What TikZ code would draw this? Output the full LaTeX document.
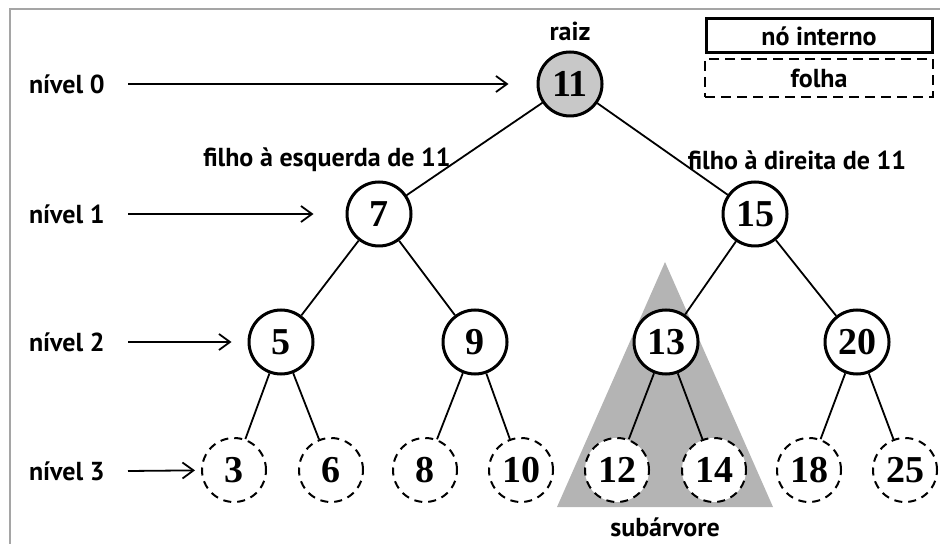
\documentclass[tikz,border=0pt]{standalone}
\usepackage{fontspec}
\setsansfont{PT Sans}
\setmainfont{Liberation Serif}
\usetikzlibrary{positioning,arrows.meta}
\definecolor{framegray}{RGB}{165,165,165}
\definecolor{rootgray}{RGB}{200,200,200}
\definecolor{subgray}{RGB}{180,180,180}

\begin{document}
\begin{tikzpicture}[x=0.5pt,y=-0.5pt,
  every node/.style={font=\sffamily\bfseries\fontsize{13}{15}\selectfont},
  inner/.style={circle,draw,fill=white,line width=1.5pt,minimum size=32pt,inner sep=0pt,
    font=\rmfamily\bfseries\fontsize{19}{19}\selectfont},
  leaf/.style={inner,line width=1pt,dash pattern=on 4pt off 3pt},
  branch/.style={line width=0.9pt},
  levelarrow/.style={line width=0.9pt,-{Straight Barb[length=5.5pt,width=8pt]}}]
  \useasboundingbox (0,0) rectangle (940,544);
  \draw[framegray,line width=0.8pt] (10,544) -- (10,9) -- (940,9);
  % subtree shading
  \fill[subgray] (665,262) -- (773,507) -- (557,507) -- cycle;
  \node (sub) at (665,527) {subárvore};
  % tree
  \node[inner,fill=rootgray] (r11) at (570,84) {11};
  \node[inner] (n7) at (379,214) {7};
  \node[inner] (n15) at (755,214) {15};
  \node[inner] (n5) at (281,342) {5};
  \node[inner] (n9) at (475,342) {9};
  \node[inner] (n13) at (666,342) {13};
  \node[inner] (n20) at (857,342) {20};
  \node[leaf] (n3) at (234,470) {3};
  \node[leaf] (n6) at (331,470) {6};
  \node[leaf] (n8) at (425,470) {8};
  \node[leaf] (n10) at (521,470) {10};
  \node[leaf] (n12) at (617,470) {12};
  \node[leaf] (n14) at (714,470) {14};
  \node[leaf] (n18) at (809,470) {18};
  \node[leaf] (n25) at (905,470) {25};
  \draw[branch] (r11) -- (n7);
  \draw[branch] (r11) -- (n15);
  \draw[branch] (n7) -- (n5);
  \draw[branch] (n7) -- (n9);
  \draw[branch] (n15) -- (n13);
  \draw[branch] (n15) -- (n20);
  \draw[branch] (n5) -- (n3);
  \draw[branch] (n5) -- (n6);
  \draw[branch] (n9) -- (n8);
  \draw[branch] (n9) -- (n10);
  \draw[branch] (n13) -- (n12);
  \draw[branch] (n13) -- (n14);
  \draw[branch] (n20) -- (n18);
  \draw[branch] (n20) -- (n25);
  % labels
  \node (raiz) at (570,31) {raiz};
  \node (fesq) at (327,160) {filho à esquerda de 11};
  \node (fdir) at (797,160) {filho à direita de 11};
  % levels
  \node[anchor=west] (lv0) at (22,84) {nível 0};
  \node[anchor=west] (lv1) at (22,214) {nível 1};
  \node[anchor=west] (lv2) at (22,342) {nível 2};
  \node[anchor=west] (lv3) at (22,471) {nível 3};
  \coordinate (a0) at (128,84);
  \coordinate (a1) at (128,214);
  \coordinate (a2) at (128,342);
  \coordinate (a3) at (128,471);
  \draw[levelarrow,shorten >=14pt] (a0) -- (r11);
  \draw[levelarrow,shorten >=16pt] (a1) -- (n7);
  \draw[levelarrow,shorten >=8pt] (a2) -- (n5);
  \draw[levelarrow,shorten >=3pt] (a3) -- (n3);
  % legend
  \node[draw,line width=1.5pt,minimum width=113pt,minimum height=17pt] (kint) at (819,36) {nó interno};
  \node[draw,line width=1pt,dash pattern=on 5pt off 3pt,minimum width=114pt,minimum height=19pt] (kleaf) at (819,78) {folha};
\end{tikzpicture}
\end{document}
